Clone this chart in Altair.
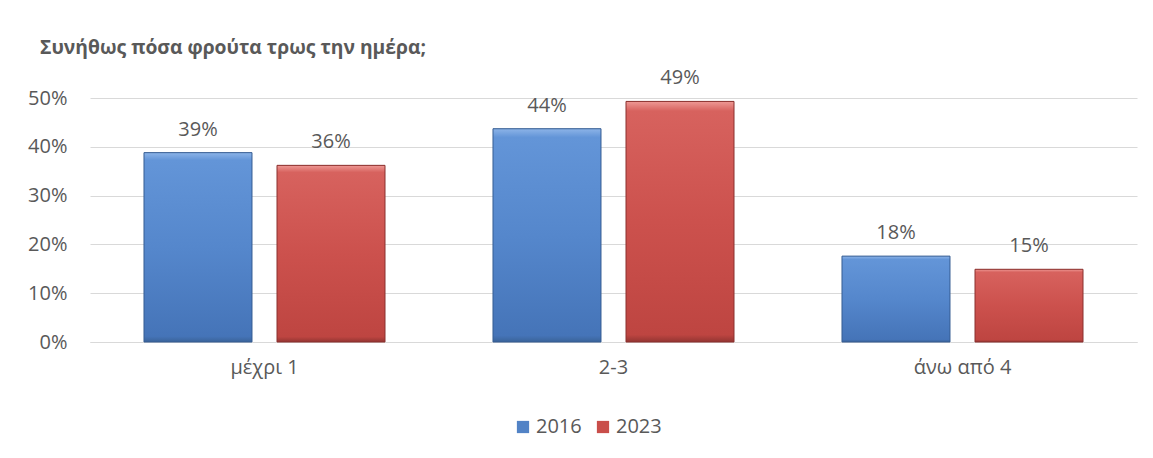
import altair as alt
import pandas as pd

categories = ["μέχρι 1", "2-3", "άνω από 4"]
years = ["2016", "2023"]
values_2016 = [0.388, 0.437, 0.176]
values_2023 = [0.362, 0.493, 0.149]
y_ticks = [0, 0.1, 0.2, 0.3, 0.4, 0.5]
title_text = "Συνήθως πόσα φρούτα τρως την ημέρα;"

rows = []
for c, v in zip(categories, values_2016):
    rows.append({"cat": c, "year": "2016", "value": v})
for c, v in zip(categories, values_2023):
    rows.append({"cat": c, "year": "2023", "value": v})
df = pd.DataFrame(rows)

FONT = "Open Sans"
TXT = "#595959"
fills = ["#5283c6", "#c94e4a"]
strokes = ["#365d92", "#8a312e"]
grads = [
    {"gradient": "linear", "x1": 0, "x2": 0, "y1": 0, "y2": 1,
     "stops": [{"offset": 0, "color": "#8db4e8"}, {"offset": 0.04, "color": "#6395d8"},
               {"offset": 0.5, "color": "#5587cc"}, {"offset": 0.97, "color": "#4574b8"},
               {"offset": 1, "color": "#3a6399"}]},
    {"gradient": "linear", "x1": 0, "x2": 0, "y1": 0, "y2": 1,
     "stops": [{"offset": 0, "color": "#ee9995"}, {"offset": 0.04, "color": "#d7625e"},
               {"offset": 0.5, "color": "#cc514d"}, {"offset": 0.97, "color": "#be4541"},
               {"offset": 1, "color": "#933532"}]},
]

x = alt.X("cat:N", sort=categories, title=None,
          scale=alt.Scale(paddingInner=0, paddingOuter=0),
          axis=alt.Axis(labelAngle=0, labelFontSize=20, labelColor=TXT,
                        labelFont=FONT, ticks=False, domainColor="#d9d9d9",
                        labelPadding=15))
xoff = alt.XOffset("year:N", sort=years,
                   scale=alt.Scale(paddingInner=0.188, paddingOuter=0.406))
y = alt.Y("value:Q", title=None,
          scale=alt.Scale(domain=[0, 0.5], nice=False),
          axis=alt.Axis(values=y_ticks, format=".0%", labelFontSize=20,
                        labelColor=TXT, labelFont=FONT, ticks=False,
                        domain=False, gridColor="#d9d9d9", labelPadding=23))

color = alt.Color("year:N", sort=years, title=None,
                  scale=alt.Scale(domain=years, range=fills),
                  legend=alt.Legend(orient="none", direction="horizontal",
                                    legendX=423, legendY=319,
                                    symbolType="square", symbolSize=150,
                                    symbolStrokeWidth=0,
                                    labelFontSize=20, labelColor=TXT,
                                    labelFont=FONT, columnPadding=11,
                                    labelOffset=3))

base_bars = alt.Chart(df).mark_bar().encode(
    x=x, xOffset=xoff, y=y, color=color,
)

overlays = []
for yr, g, s in zip(years, grads, strokes):
    overlays.append(
        alt.Chart(df).transform_filter(alt.datum.year == yr)
        .mark_bar(fill=g, stroke=s, strokeWidth=1)
        .encode(x=alt.X("cat:N", sort=categories),
                xOffset=alt.XOffset("year:N", sort=years),
                y="value:Q")
    )

labels = alt.Chart(df).mark_text(baseline="alphabetic", dy=-17, fontSize=20,
                                 color=TXT, font=FONT).encode(
    x=alt.X("cat:N", sort=categories), xOffset=alt.XOffset("year:N", sort=years),
    y="value:Q", text=alt.Text("value:Q", format=".0%"),
)

chart = alt.layer(base_bars, *overlays, labels).properties(
    width=1047, height=244,
    title=alt.TitleParams(title_text, anchor="start", frame="group", dx=-50,
                          fontSize=19.3, fontWeight="bold", color=TXT, font=FONT,
                          offset=10),
    autosize=alt.AutoSizeParams(type="none"),
    padding={"left": 82, "top": 90, "right": 8, "bottom": 100},
).configure_view(stroke=None)

chart.save("out.html", embed_options={"renderer": "svg", "actions": False})
